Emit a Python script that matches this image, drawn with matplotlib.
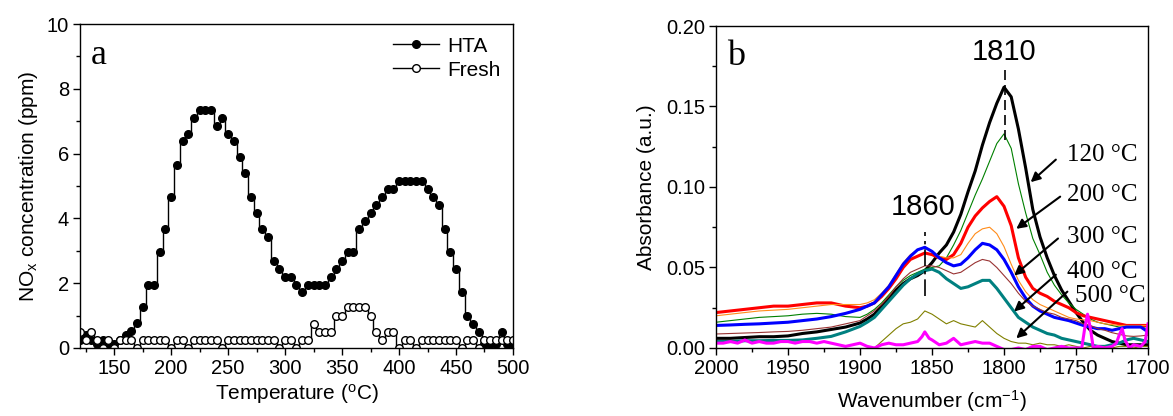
import numpy as np
import matplotlib
matplotlib.use("Agg")
import matplotlib.pyplot as plt
from matplotlib.ticker import MultipleLocator, FormatStrFormatter

plt.rcParams['font.family'] = ['Liberation Sans', 'DejaVu Sans']
plt.rcParams['mathtext.default'] = 'regular'

# ---------------- Panel a data ----------------
temperature = list(range(120, 501, 5))
nox_hta = [0.26, 0.39, 0.26, 0.13, 0.26, 0.13, 0.13, 0.26, 0.39, 0.52,
           0.78, 1.25, 1.95, 1.95, 2.95, 3.68, 4.66, 5.64, 6.38, 6.62,
           7.10, 7.35, 7.35, 7.35, 6.86, 7.10, 6.62, 6.38, 5.88, 5.40,
           4.66, 4.17, 3.68, 3.43, 2.70, 2.45, 2.20, 2.20, 1.95, 1.73,
           1.95, 1.95, 1.95, 1.95, 2.20, 2.45, 2.70, 2.95, 2.95, 3.68,
           3.92, 4.17, 4.42, 4.66, 4.90, 4.90, 5.15, 5.15, 5.15, 5.15,
           5.15, 4.90, 4.66, 4.42, 3.68, 2.95, 2.45, 1.73, 1.00, 0.75,
           0.50, 0.13, 0.13, 0.13, 0.50, 0.13, 0.13]
nox_fresh = [0.50, 0.25, 0.50, 0.25, 0.00, 0.25, 0.00, 0.25, 0.25, 0.25,
             0.00, 0.25, 0.25, 0.25, 0.25, 0.25, 0.00, 0.25, 0.25, 0.00,
             0.25, 0.25, 0.25, 0.25, 0.25, 0.00, 0.25, 0.25, 0.25, 0.25,
             0.25, 0.25, 0.25, 0.25, 0.25, 0.00, 0.25, 0.25, 0.00, 0.25,
             0.25, 0.75, 0.50, 0.50, 0.50, 1.00, 1.00, 1.25, 1.25, 1.25,
             1.25, 1.00, 0.50, 0.25, 0.50, 0.50, 0.00, 0.25, 0.25, 0.00,
             0.25, 0.25, 0.25, 0.25, 0.25, 0.25, 0.25, 0.00, 0.25, 0.25,
             0.00, 0.25, 0.25, 0.25, 0.25, 0.25, 0.25]

# ---------------- Panel b data ----------------
wavenumber = list(range(2000, 1909, -10)) + list(range(1900, 1699, -5))
abs_120 = [0.006, 0.006, 0.0065, 0.007, 0.007, 0.0075, 0.009, 0.010, 0.0115, 0.013,
           0.0155, 0.018, 0.021, 0.026, 0.031, 0.036, 0.040, 0.043, 0.045, 0.048,
           0.053, 0.059, 0.064, 0.072, 0.083, 0.097, 0.110, 0.126, 0.140, 0.152,
           0.162, 0.156, 0.136, 0.112, 0.086, 0.069, 0.056, 0.045, 0.036, 0.029,
           0.022, 0.016, 0.011, 0.008, 0.006, 0.004, 0.003, 0.002, 0.002, 0.002, 0.002]
abs_150 = [0.016, 0.017, 0.018, 0.019, 0.0195, 0.020, 0.021, 0.0215, 0.021, 0.0195,
           0.019, 0.021, 0.024, 0.028, 0.033, 0.038, 0.042, 0.045, 0.047, 0.049,
           0.050, 0.051, 0.056, 0.064, 0.073, 0.084, 0.095, 0.105, 0.116, 0.127,
           0.133, 0.124, 0.102, 0.084, 0.068, 0.058, 0.047, 0.039, 0.033, 0.028,
           0.024, 0.021, 0.018, 0.016, 0.015, 0.014, 0.013, 0.013, 0.014, 0.013, 0.012]
abs_200 = [0.022, 0.023, 0.024, 0.025, 0.026, 0.026, 0.027, 0.028, 0.028, 0.026,
           0.025, 0.026, 0.028, 0.032, 0.037, 0.043, 0.050, 0.055, 0.057, 0.059,
           0.058, 0.056, 0.055, 0.058, 0.065, 0.075, 0.082, 0.087, 0.091, 0.094,
           0.088, 0.076, 0.056, 0.044, 0.037, 0.034, 0.032, 0.029, 0.027, 0.025,
           0.022, 0.020, 0.019, 0.018, 0.017, 0.016, 0.015, 0.014, 0.014, 0.014, 0.014]
abs_250 = [0.020, 0.021, 0.022, 0.023, 0.0235, 0.024, 0.025, 0.026, 0.027, 0.027,
           0.027, 0.028, 0.030, 0.034, 0.039, 0.046, 0.053, 0.058, 0.061, 0.063,
           0.060, 0.057, 0.056, 0.056, 0.058, 0.065, 0.071, 0.074, 0.075, 0.071,
           0.063, 0.052, 0.042, 0.035, 0.030, 0.027, 0.025, 0.023, 0.021, 0.019,
           0.018, 0.0175, 0.017, 0.016, 0.015, 0.0145, 0.014, 0.014, 0.014, 0.014, 0.014]
abs_300 = [0.014, 0.0143, 0.0147, 0.015, 0.0155, 0.016, 0.017, 0.018, 0.0195, 0.0215,
           0.024, 0.026, 0.028, 0.033, 0.038, 0.045, 0.052, 0.057, 0.061, 0.0625,
           0.060, 0.056, 0.053, 0.051, 0.052, 0.056, 0.061, 0.065, 0.064, 0.061,
           0.055, 0.047, 0.038, 0.031, 0.026, 0.023, 0.021, 0.019, 0.018, 0.017,
           0.0155, 0.014, 0.013, 0.012, 0.012, 0.011, 0.012, 0.013, 0.013, 0.013, 0.010]
abs_350 = [0.0087, 0.009, 0.0093, 0.0096, 0.010, 0.0103, 0.011, 0.012, 0.013, 0.015,
           0.017, 0.020, 0.023, 0.027, 0.032, 0.038, 0.043, 0.047, 0.049, 0.051,
           0.051, 0.050, 0.048, 0.046, 0.047, 0.050, 0.053, 0.055, 0.054, 0.050,
           0.045, 0.040, 0.034, 0.029, 0.026, 0.024, 0.022, 0.021, 0.019, 0.018,
           0.017, 0.015, 0.014, 0.012, 0.011, 0.0095, 0.0085, 0.0075, 0.0072, 0.0075, 0.008]
abs_400 = [0.004, 0.004, 0.0045, 0.0045, 0.0047, 0.0047, 0.005, 0.006, 0.0072, 0.010,
           0.0134, 0.016, 0.019, 0.024, 0.029, 0.034, 0.039, 0.043, 0.046, 0.048,
           0.049, 0.047, 0.043, 0.040, 0.037, 0.038, 0.040, 0.042, 0.042, 0.037,
           0.031, 0.025, 0.019, 0.016, 0.013, 0.011, 0.009, 0.008, 0.006, 0.005,
           0.004, 0.003, 0.002, 0.001, 0.001, 0.002, 0.003, 0.005, 0.006, 0.005, 0.004]
abs_450 = [-0.002, -0.002, -0.002, -0.002, -0.002, -0.002, -0.002, -0.002, -0.002, -0.001,
           -0.001, -0.001, 0.000, 0.004, 0.008, 0.012, 0.015, 0.016, 0.018, 0.023,
           0.021, 0.018, 0.015, 0.017, 0.015, 0.014, 0.013, 0.017, 0.013, 0.009,
           0.006, 0.004, 0.003, 0.003, 0.002, 0.003, 0.002, 0.002, 0.001, 0.002,
           0.001, 0.000, 0.001, 0.000, 0.001, 0.000, 0.001, 0.001, 0.000, 0.001, 0.001]
wn_500 = [2000, 1995, 1990, 1985, 1980, 1975, 1970, 1965, 1960, 1955, 1950, 1945,
          1940, 1935, 1930, 1925, 1920, 1915, 1910, 1905, 1900, 1895, 1890, 1885,
          1880, 1875, 1870, 1865, 1860, 1857, 1855, 1852, 1850, 1845, 1840, 1835,
          1830, 1825, 1820, 1815, 1810, 1805, 1800, 1795, 1790, 1785, 1780, 1775,
          1770, 1765, 1760, 1755, 1750, 1746, 1744, 1742, 1740, 1738, 1735, 1730,
          1725, 1722, 1720, 1718, 1716, 1713, 1710, 1705, 1702, 1700]
abs_500 = [0.003, 0.003, 0.004, 0.003, 0.005, 0.003, 0.004, 0.003, 0.003, 0.004, 0.004, 0.003,
           0.004, 0.004, 0.003, 0.004, 0.003, 0.002, 0.001, 0.002, 0.003, 0.001, 0.000, 0.002,
           0.003, 0.002, 0.002, 0.003, 0.004, 0.007, 0.010, 0.006, 0.005, 0.002, 0.003, 0.006,
           0.002, 0.003, 0.004, 0.003, 0.003, 0.001, -0.001, -0.001, 0.000, -0.001, 0.001, 0.001,
           -0.001, 0.000, 0.001, 0.000, 0.000, 0.000, 0.012, 0.021, 0.012, 0.000, 0.001, 0.000,
           0.001, 0.003, 0.008, 0.012, 0.005, 0.000, 0.002, 0.001, 0.004, 0.015]

temp_labels = ['120 °C', '200 °C', '300 °C', '400 °C', '500 °C']

# ---------------- Figure ----------------
fig = plt.figure(figsize=(11.73, 4.16), dpi=100)
ax1 = fig.add_axes([0.0682, 0.1635, 0.3691, 0.7788])
ax2 = fig.add_axes([0.6104, 0.1635, 0.3683, 0.7740])

for ax in (ax1, ax2):
    for s in ax.spines.values():
        s.set_linewidth(1.0)
    ax.tick_params(which='major', direction='out', length=5, width=1, labelsize=14.5, pad=3)
    ax.tick_params(which='minor', direction='out', length=3, width=1)

# Panel a
ax1.plot(temperature, nox_hta, color='black', lw=1.0, marker='o', ms=5.5,
         mfc='black', mec='black', drawstyle='steps-mid', label='HTA')
ax1.plot(temperature, nox_fresh, color='black', lw=1.0, marker='o', ms=5.5,
         mfc='white', mec='black', drawstyle='steps-mid', label='Fresh')
ax1.set_xlim(120, 500)
ax1.set_ylim(0, 10)
ax1.xaxis.set_major_locator(MultipleLocator(50))
ax1.xaxis.set_minor_locator(MultipleLocator(25))
ax1.yaxis.set_major_locator(MultipleLocator(2))
ax1.yaxis.set_minor_locator(MultipleLocator(1))
ax1.set_xlabel('Temperature ($^\\mathregular{o}$C)', fontsize=15, labelpad=3)
ax1.set_ylabel('NO$_\\mathregular{x}$ concentration (ppm)', fontsize=15, labelpad=5)
ax1.text(0.025, 0.955, 'a', transform=ax1.transAxes, fontsize=26,
         family='Liberation Serif', va='top', ha='left')
leg = ax1.legend(loc='upper right', frameon=False, fontsize=15, handlelength=2.2,
                 handletextpad=0.4, borderaxespad=0.2, labelspacing=0.25)

# Panel b
ax2.plot(wavenumber, abs_120, color='black', lw=2.2)
ax2.plot(wavenumber, abs_150, color='#008000', lw=0.8)
ax2.plot(wavenumber, abs_200, color='#ff0000', lw=2.2)
ax2.plot(wavenumber, abs_250, color='#ff8c1a', lw=0.8)
ax2.plot(wavenumber, abs_300, color='#0000ff', lw=2.2)
ax2.plot(wavenumber, abs_350, color='#993333', lw=0.8)
ax2.plot(wavenumber, abs_400, color='#008080', lw=2.2)
ax2.plot(wavenumber, abs_450, color='#808000', lw=0.8)
ax2.plot(wn_500, abs_500, color='#ff00ff', lw=2.2)
ax2.set_xlim(2000, 1700)
ax2.set_ylim(0, 0.20)
ax2.xaxis.set_major_locator(MultipleLocator(50))
ax2.xaxis.set_minor_locator(MultipleLocator(25))
ax2.yaxis.set_major_locator(MultipleLocator(0.05))
ax2.yaxis.set_minor_locator(MultipleLocator(0.025))
ax2.yaxis.set_major_formatter(FormatStrFormatter('%.2f'))
ax2.set_xlabel('Wavenumber (cm$^{-1}$)', fontsize=15, labelpad=7)
ax2.set_ylabel('Absorbance (a.u.)', fontsize=15, labelpad=7)
ax2.text(0.025, 0.955, 'b', transform=ax2.transAxes, fontsize=26,
         family='Liberation Serif', va='top', ha='left')

# peak markers
ax2.plot([1799, 1799], [0.129, 0.175], color='black', lw=1.2, dashes=(6, 3))
ax2.plot([1855, 1855], [0.032, 0.072], color='black', lw=1.2, dashes=(10, 3, 2, 3))
ax2.text(1800, 0.184, '1810', fontsize=21, ha='center', va='center')
ax2.text(1856, 0.0875, '1860', fontsize=21, ha='center', va='center')

# temperature arrows and labels
label_pos = [(1756, 0.120), (1756, 0.095), (1756, 0.069), (1756, 0.0475), (1751, 0.032)]
arrow_tail = [(1764, 0.117), (1761, 0.094), (1762.5, 0.068), (1764, 0.0455), (1756, 0.035)]
arrow_head = [(1781.5, 0.103), (1791.5, 0.074), (1793, 0.045), (1793, 0.0227), (1791.5, 0.006)]
for lab, (lx, ly), tail, head in zip(temp_labels, label_pos, arrow_tail, arrow_head):
    ax2.text(lx, ly, lab, fontsize=18, family='Liberation Serif', ha='left', va='center')
    ax2.annotate('', xy=head, xytext=tail,
                 arrowprops=dict(arrowstyle='-|>', color='black', lw=1.5,
                                 mutation_scale=14, shrinkA=0, shrinkB=0))

fig.savefig('out.png', dpi=100)
